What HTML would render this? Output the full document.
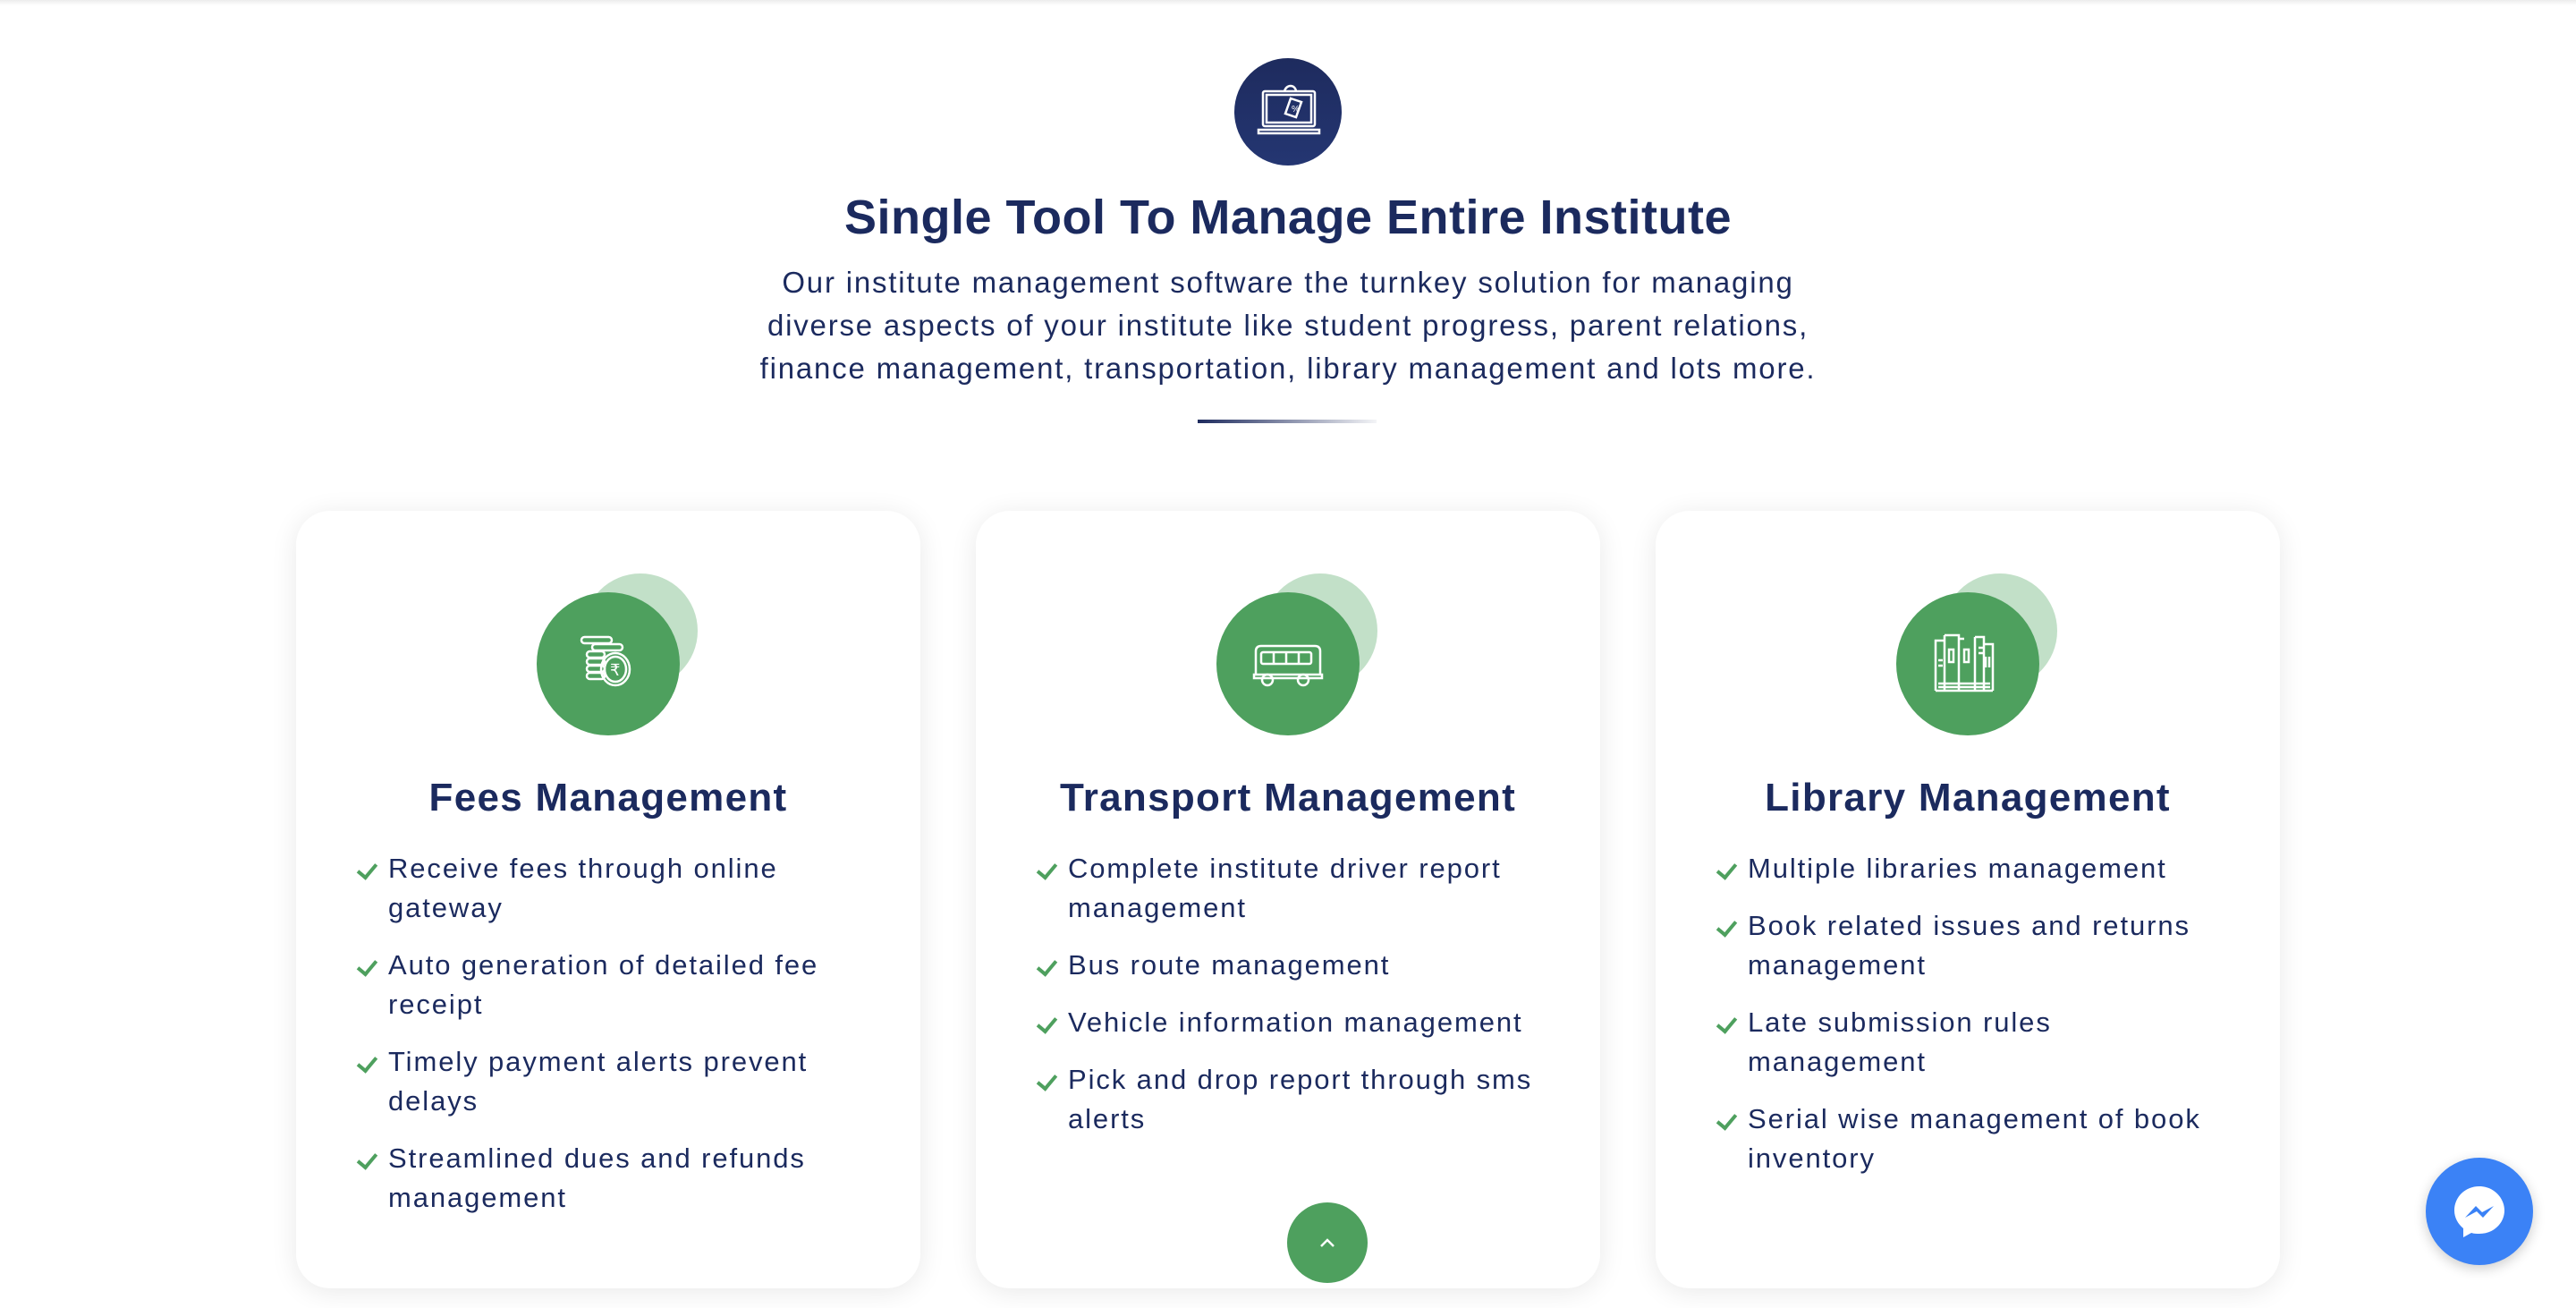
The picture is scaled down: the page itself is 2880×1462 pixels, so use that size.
<!DOCTYPE html>
<html><head><meta charset="utf-8"><style>
*{margin:0;padding:0;box-sizing:border-box}
body{width:2880px;height:1462px;background:#fff;position:relative;overflow:hidden;font-family:"Liberation Sans",sans-serif;color:#1b2a5e}
.topline{position:absolute;left:0;top:0;width:2880px;height:6px;background:linear-gradient(#ececec,#fff)}
.hicon{position:absolute;left:1380px;top:65px;width:120px;height:120px;border-radius:50%;background:linear-gradient(#1e2b5e,#243672)}
h1{position:absolute;left:0;width:2880px;top:212px;text-align:center;font-size:54px;font-weight:bold;letter-spacing:0.5px}
.p{position:absolute;left:0;width:2880px;top:292px;text-align:center;font-size:33px;line-height:48px;letter-spacing:1.8px}
.div{position:absolute;left:1339px;top:469px;width:200px;height:4px;background:linear-gradient(90deg,#1e2b5e,rgba(30,43,94,0.05))}
.card{position:absolute;top:571px;width:698px;height:869px;border-radius:38px;background:#fff;box-shadow:0 4px 30px rgba(0,0,0,0.09)}
.lc{position:absolute;left:321px;top:70px;width:128px;height:128px;border-radius:50%;background:#c2e0c8}
.dc{position:absolute;left:269px;top:91px;width:160px;height:160px;border-radius:50%;background:#4ea05e}
.dc svg{position:absolute;left:40px;top:40px}
.ct{position:absolute;left:0;width:698px;top:296px;text-align:center;font-size:44px;font-weight:bold;letter-spacing:1.3px}
ul{position:absolute;left:75px;top:378px;list-style:none}
li{position:relative;padding-left:28px;font-size:31px;line-height:44px;margin-bottom:20px;white-space:nowrap;letter-spacing:1.9px}
li:before{content:"";position:absolute;left:-2px;top:12px;width:9px;height:17px;border-right:4px solid #4ea05e;border-bottom:4px solid #4ea05e;transform:rotate(40deg)}
.up{position:absolute;left:1439px;top:1344px;width:90px;height:90px;border-radius:50%;background:#4ea05e}
.msg{position:absolute;left:2712px;top:1294px;width:120px;height:120px;border-radius:50%;background:#3b82f6;box-shadow:0 4px 14px rgba(0,0,0,0.2)}
</style></head><body>
<div class="topline"></div>
<div class="hicon"><svg width="120" height="120" viewBox="0 0 120 120" fill="none" stroke="#fff" stroke-width="2.5"><rect x="32" y="37" width="58" height="39" rx="2"/><rect x="36" y="41" width="50" height="31"/><path d="M27 80h68v4H27z"/><path d="M56 37c2-8 12-8 13 0"/><path d="M63 45l12 4-6 17-12-4z"/><text x="64" y="60" font-size="10" fill="#fff" stroke="none">%</text></svg></div>
<h1>Single Tool To Manage Entire Institute</h1>
<div class="p">Our institute management software the turnkey solution for managing<br>diverse aspects of your institute like student progress, parent relations,<br>finance management, transportation, library management and lots more.</div>
<div class="div"></div>

<div class="card" style="left:331px">
<div class="lc"></div>
<div class="dc"><svg width="80" height="80" viewBox="0 0 80 80" fill="none" stroke="#fff" stroke-width="2.5"><rect x="10" y="10" width="34" height="7" rx="3.5"/><rect x="22" y="18" width="34" height="7" rx="3.5"/><rect x="16" y="26" width="20" height="7" rx="3.5"/><rect x="16" y="34" width="20" height="7" rx="3.5"/><rect x="16" y="42" width="20" height="7" rx="3.5"/><rect x="16" y="50" width="20" height="7" rx="3.5"/><ellipse cx="48" cy="46" rx="16" ry="18"/><ellipse cx="48" cy="46" rx="12" ry="14"/><text x="42" y="53" font-size="18" fill="#fff" stroke="none">₹</text></svg></div>
<div class="ct">Fees Management</div>
<ul><li>Receive fees through online<br>gateway</li><li>Auto generation of detailed fee<br>receipt</li><li>Timely payment alerts prevent<br>delays</li><li>Streamlined dues and refunds<br>management</li></ul>
</div>

<div class="card" style="left:1091px">
<div class="lc"></div>
<div class="dc"><svg width="80" height="80" viewBox="0 0 80 80" fill="none" stroke="#fff" stroke-width="2.5"><path d="M4 52V26q0-6 6-6h60q6 0 6 6v26"/><rect x="10" y="27" width="56" height="13" rx="2"/><path d="M24 27v13M38 27v13M52 27v13"/><path d="M2 52h76v4H2z"/><circle cx="17" cy="58" r="6"/><circle cx="57" cy="58" r="6"/></svg></div>
<div class="ct">Transport Management</div>
<ul><li>Complete institute driver report<br>management</li><li>Bus route management</li><li>Vehicle information management</li><li>Pick and drop report through sms<br>alerts</li></ul>
</div>

<div class="card" style="left:1851px">
<div class="lc"></div>
<div class="dc"><svg width="80" height="80" viewBox="0 0 80 80" fill="none" stroke="#fff" stroke-width="2.5"><path d="M4 70V14h10M14 8h16v62M14 8v62M30 12h6M48 10h10v60M48 10v60M58 18h10v52M4 70h64"/><rect x="19" y="24" width="5" height="14"/><rect x="36" y="24" width="5" height="14"/><path d="M7 36h5M7 42h5M52 22h5M52 28h5M60 32v12M64 32v12M7 62h58M7 66h58"/></svg></div>
<div class="ct">Library Management</div>
<ul><li>Multiple libraries management</li><li>Book related issues and returns<br>management</li><li>Late submission rules<br>management</li><li>Serial wise management of book<br>inventory</li></ul>
</div>

<div class="up"><svg width="90" height="90"><path d="M38 49l7-7 7 7" fill="none" stroke="#fff" stroke-width="2.5"/></svg></div>
<div class="msg"><svg width="120" height="120" viewBox="0 0 120 120"><path d="M60 32c-16 0-28 12-28 27 0 8 4 15 10 20v10l9-5c3 1 6 1 9 1 16 0 28-12 28-26S76 32 60 32z" fill="#fff"/><path d="M44 67l12-13 7 7 13-7-12 13-7-7z" fill="#3b82f6"/></svg></div>
</body></html>
